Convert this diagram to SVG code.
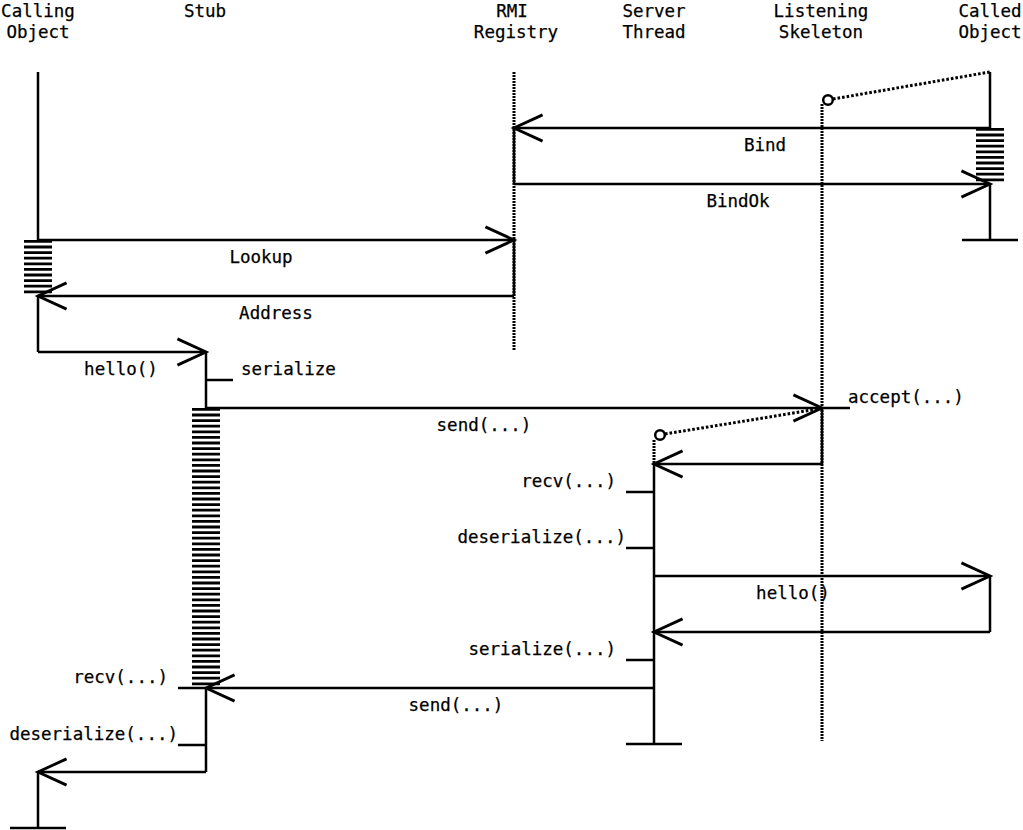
<svg xmlns="http://www.w3.org/2000/svg" width="1023" height="830" viewBox="0 0 1023 830">
<style>
text{font-family:"DejaVu Sans Mono","Liberation Mono",monospace;font-size:17.5px;fill:#000;stroke:#000;stroke-width:0.25}
.c{text-anchor:middle}.e{text-anchor:end}
.l{stroke:#000;stroke-width:2.5;fill:none}
.d{stroke:#000;stroke-width:3;fill:none;stroke-dasharray:2.6 2}
.v{stroke:#000;stroke-width:3;fill:none;stroke-dasharray:2 1}
.h{stroke:#000;stroke-width:28;stroke-dasharray:2.8 2.8;fill:none}
.a{stroke:#000;stroke-width:2.5;fill:none;marker-end:url(#ah)}
.o{stroke:#000;stroke-width:2.5;fill:#fff}
</style>
<defs>
<marker id="ah" markerUnits="userSpaceOnUse" orient="auto" refX="0" refY="0" markerWidth="40" markerHeight="40" viewBox="-30 -15 35 30" overflow="visible">
<path d="M-25,-11.5 L0,0 L-25,11.5" fill="none" stroke="#000" stroke-width="2.5"/>
</marker>
</defs>
<rect width="1023" height="830" fill="#fff"/>
<g id="calling-object">
<text class="c" x="38" y="17">Calling</text>
<text class="c" x="38" y="38">Object</text>
<line class="l" x1="38" y1="72" x2="38" y2="240"/>
<line class="h" x1="38" y1="240" x2="38" y2="296"/>
<line class="l" x1="38" y1="296" x2="38" y2="352"/>
<line class="l" x1="38" y1="772" x2="38" y2="828"/>
<line class="l" x1="10" y1="828" x2="66" y2="828"/>
</g>
<g id="stub">
<text class="c" x="205" y="17">Stub</text>
<line class="l" x1="206" y1="352" x2="206" y2="408"/>
<line class="l" x1="206" y1="380" x2="233" y2="380"/>
<text x="241" y="375">serialize</text>
<line class="h" x1="206" y1="408" x2="206" y2="688"/>
<line class="l" x1="206" y1="688" x2="206" y2="772"/>
<line class="l" x1="178" y1="688" x2="206" y2="688"/>
<text class="e" x="168" y="683">recv(...)</text>
<line class="l" x1="178" y1="745" x2="206" y2="745"/>
<text class="e" x="178" y="740">deserialize(...)</text>
</g>
<g id="rmi-registry">
<text class="c" x="512" y="17">RMI</text>
<text class="c" x="516" y="38">Registry</text>
<line class="v" x1="514" y1="72" x2="514" y2="350"/>
<line class="l" x1="514" y1="128" x2="514" y2="184"/>
<line class="l" x1="514" y1="240" x2="514" y2="296"/>
</g>
<g id="server-thread">
<text class="c" x="654" y="17">Server</text>
<text class="c" x="654" y="38">Thread</text>
<line class="v" x1="654" y1="440" x2="654" y2="464"/>
<circle class="o" cx="660" cy="435" r="4.8"/>
<line class="l" x1="654" y1="464" x2="654" y2="744"/>
<line class="l" x1="626" y1="492" x2="654" y2="492"/>
<text class="e" x="616" y="487">recv(...)</text>
<line class="l" x1="626" y1="548" x2="654" y2="548"/>
<text class="e" x="626" y="543">deserialize(...)</text>
<line class="l" x1="626" y1="660" x2="654" y2="660"/>
<text class="e" x="616" y="655">serialize(...)</text>
<line class="l" x1="626" y1="744" x2="682" y2="744"/>
</g>
<g id="listening-skeleton">
<text class="c" x="821" y="17">Listening</text>
<text class="c" x="821" y="38">Skeleton</text>
<line class="v" x1="822" y1="104" x2="822" y2="741"/>
<circle class="o" cx="828" cy="100" r="4.8"/>
<line class="l" x1="822" y1="408" x2="822" y2="464"/>
<line class="l" x1="822" y1="408" x2="850" y2="408"/>
<text x="848" y="403">accept(...)</text>
</g>
<g id="called-object">
<text class="c" x="990" y="17">Called</text>
<text class="c" x="990" y="38">Object</text>
<line class="l" x1="990" y1="72" x2="990" y2="128"/>
<line class="h" x1="990" y1="128" x2="990" y2="184"/>
<line class="l" x1="990" y1="184" x2="990" y2="240"/>
<line class="l" x1="962" y1="240" x2="1018" y2="240"/>
<line class="l" x1="990" y1="576" x2="990" y2="632"/>
</g>
<g id="connectors">
<line class="d" x1="833" y1="99" x2="990" y2="72"/>
<line class="d" x1="665" y1="434" x2="818" y2="409"/>
<line class="a" x1="990" y1="128" x2="514" y2="128"/>
<text class="c" x="765" y="151">Bind</text>
<line class="a" x1="514" y1="184" x2="990" y2="184"/>
<text class="c" x="738" y="207">BindOk</text>
<line class="a" x1="38" y1="240" x2="514" y2="240"/>
<text class="c" x="261" y="263">Lookup</text>
<line class="a" x1="514" y1="296" x2="38" y2="296"/>
<text class="c" x="276" y="319">Address</text>
<line class="a" x1="38" y1="352" x2="206" y2="352"/>
<text class="c" x="121" y="375">hello()</text>
<line class="a" x1="206" y1="408" x2="822" y2="408"/>
<text class="c" x="484" y="431">send(...)</text>
<line class="a" x1="822" y1="464" x2="654" y2="464"/>
<line class="a" x1="654" y1="576" x2="990" y2="576"/>
<text class="c" x="793" y="599">hello()</text>
<line class="a" x1="990" y1="632" x2="654" y2="632"/>
<line class="a" x1="654" y1="688" x2="206" y2="688"/>
<text class="c" x="456" y="711">send(...)</text>
<line class="a" x1="206" y1="772" x2="38" y2="772"/>
</g>
</svg>
